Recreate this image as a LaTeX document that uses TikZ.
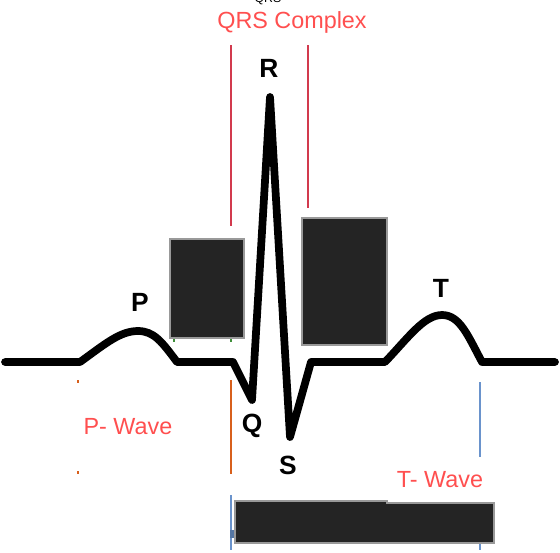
\documentclass[tikz,border=0pt]{standalone}
\usepackage{fontspec}
\setmainfont{Liberation Sans}
\usetikzlibrary{positioning}
\definecolor{wavered}{HTML}{FF4F4F}
\definecolor{linered}{HTML}{D23A4E}
\definecolor{lineorange}{HTML}{D8601C}
\definecolor{lineblue}{HTML}{6A93CC}
\definecolor{tickgreen}{HTML}{3F8F3A}
\definecolor{blockgray}{HTML}{242424}

\begin{document}
\begin{tikzpicture}[x=0.02cm, y=-0.02cm,
  peak/.style={font=\fontsize{15}{15}\selectfont\bfseries},
  wavelbl/.style={font=\fontsize{13.3}{13.3}\selectfont, text=wavered},
  guide/.style={line width=0.8pt, #1},
  redact/.style={draw=gray!80, fill=blockgray, line width=0.6pt},
  trace/.style={line width=4.4pt, line join=round, line cap=round}
]
  \useasboundingbox (0,0) rectangle (560,552);
  % guide lines
  \foreach \x/\y in {231/226, 308/208} {\draw[guide=linered] (\x,45) -- (\x,\y);}
  \draw[guide=lineorange] (231,380) -- (231,474);
  \foreach \y in {380, 471} {\draw[guide=lineorange] (78,\y) -- (78,\y+3);}
  \foreach \x in {174, 231} {\draw[guide=tickgreen] (\x,337) -- (\x,342);}
  \draw[guide=lineblue] (231,495) -- (231,550);
  \draw[guide=lineblue] (480,382) -- (480,550);
  \fill[lineblue!80!black] (229.5,530) rectangle (235,538);
  % ecg trace
  \draw[trace] (5,362) -- (80,362)
    .. controls (105,344) and (120,331) .. (138,331)
    .. controls (154,331) and (162,342) .. (177,362)
    -- (233,362) -- (252,400) -- (270,97) -- (290,437) -- (311,362) -- (385,362)
    .. controls (408,338) and (424,315) .. (442,315)
    .. controls (460,315) and (468,336) .. (482,362) -- (555,362);
  % labels
  \node[peak] (p) at (140,302) {P};
  \node[peak] (r) at (269,68) {R};
  \node[peak] (q) at (252,426) {Q};
  \node[peak] (s) at (288,465) {S};
  \node[peak] (t) at (441,288) {T};
  \node[font=\fontsize{7}{7}\selectfont] (top) at (268,-1) {QRS};
  \node[wavelbl] (qrs) at (292,22) {QRS Complex};
  \node[wavelbl] (pwave) at (128,427) {P- Wave};
  \node[wavelbl, fill=white, minimum width=2.14cm, minimum height=0.92cm] (twave) at (440,480) {T- Wave};
  % blocks
  \draw[redact] (170,239) rectangle (244,338);
  \draw[redact] (302,218) rectangle (387,345);
  \draw[redact] (235,501) -- (387,501) -- (387,503) -- (494,503) -- (494,543) -- (235,543) -- cycle;
\end{tikzpicture}
\end{document}
